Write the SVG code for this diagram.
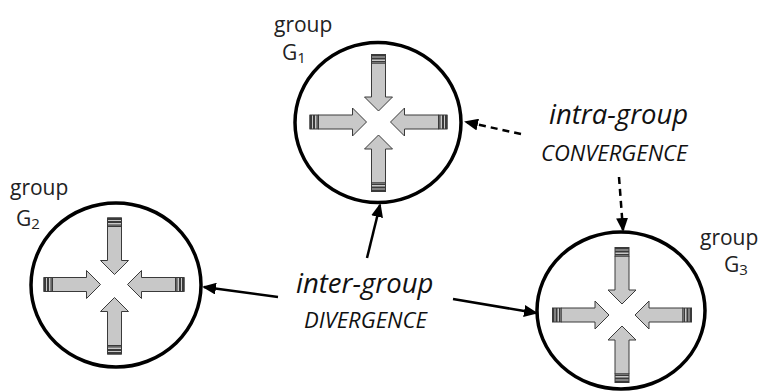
<svg xmlns="http://www.w3.org/2000/svg" xmlns:xlink="http://www.w3.org/1999/xlink" width="763" height="392" viewBox="0 0 763 392">
<style>
.ring{fill:#fff;stroke:#000;stroke-width:3.5}
.lbl{font-family:"Open Sans","Noto Sans","DejaVu Sans",sans-serif;font-size:21px;fill:#222}
.sub{font-size:15px}
.big{font-family:"Open Sans","Noto Sans","DejaVu Sans",sans-serif;font-style:italic;font-size:27.5px;fill:#111}
.caps{font-family:"Open Sans","Noto Sans","DejaVu Sans",sans-serif;font-style:italic;font-size:22px;fill:#111}
.conn{fill:none;stroke:#000;stroke-width:2.5}
.dash{stroke-dasharray:7,5}
.body{fill:#c8c8c8;stroke:#3a3a3a;stroke-width:1}
.band{fill:#3a3a3a}
</style>
<defs>
<marker id="ah" markerUnits="userSpaceOnUse" markerWidth="14" markerHeight="12" refX="12" refY="6" orient="auto">
<path d="M0,0 L14,6 L0,12 Z" fill="#000"/>
</marker>
<g id="ia">
<path class="body" d="M9,-7 H43 V-14 L57,0 L43,14 V7 H9 Z"/>
<rect class="body" x="0.5" y="-7" width="8.5" height="14"/>
<rect class="band" x="0" y="-7" width="2.5" height="14"/>
<rect class="band" x="3.5" y="-7" width="2" height="14"/>
<rect class="band" x="7" y="-7" width="1.2" height="14"/>
</g>
</defs>

<g id="G1">
<ellipse class="ring" cx="378" cy="122.5" rx="83" ry="80"/>
<use xlink:href="#ia" href="#ia" transform="translate(378.5,122) translate(-69,0)"/>
<use xlink:href="#ia" href="#ia" transform="translate(378.5,122) rotate(180) translate(-69,0)"/>
<use xlink:href="#ia" href="#ia" transform="translate(378.5,122) rotate(90) translate(-68,0)"/>
<use xlink:href="#ia" href="#ia" transform="translate(378.5,122) rotate(-90) translate(-70,0)"/>
<text class="lbl" x="274" y="32">group</text>
<text class="lbl" x="282" y="60">G<tspan class="sub" dy="3">1</tspan></text>
</g>

<g id="G2">
<ellipse class="ring" cx="116" cy="285" rx="85" ry="82"/>
<use xlink:href="#ia" href="#ia" transform="translate(114.5,284.5) translate(-71,0)"/>
<use xlink:href="#ia" href="#ia" transform="translate(114.5,284.5) rotate(180) translate(-70,0)"/>
<use xlink:href="#ia" href="#ia" transform="translate(114.5,284.5) rotate(90) translate(-67,0)"/>
<use xlink:href="#ia" href="#ia" transform="translate(114.5,284.5) rotate(-90) translate(-70,0)"/>
<text class="lbl" x="10" y="195">group</text>
<text class="lbl" x="16" y="226">G<tspan class="sub" dy="3">2</tspan></text>
</g>

<g id="G3">
<ellipse class="ring" cx="621" cy="310.5" rx="84" ry="78.5"/>
<use xlink:href="#ia" href="#ia" transform="translate(622,315) translate(-70,0)"/>
<use xlink:href="#ia" href="#ia" transform="translate(622,315) rotate(180) translate(-70,0)"/>
<use xlink:href="#ia" href="#ia" transform="translate(622,315) rotate(90) translate(-68,0)"/>
<use xlink:href="#ia" href="#ia" transform="translate(622,315) rotate(-90) translate(-68,0)"/>
<text class="lbl" x="700" y="245">group</text>
<text class="lbl" x="724" y="272">G<tspan class="sub" dy="3">3</tspan></text>
</g>

<g id="labels">
<text class="big" x="549" y="124">intra-group</text>
<text class="caps" x="541" y="161">CONVERGENCE</text>
<text class="big" x="296" y="293">inter-group</text>
<text class="caps" x="304" y="328">DIVERGENCE</text>
</g>

<g id="connectors">
<line class="conn" x1="367" y1="258" x2="380" y2="205" marker-end="url(#ah)"/>
<line class="conn" x1="278" y1="297" x2="204" y2="287" marker-end="url(#ah)"/>
<line class="conn" x1="453" y1="299" x2="536" y2="313" marker-end="url(#ah)"/>
<line class="conn dash" x1="521" y1="134" x2="466" y2="122" marker-end="url(#ah)"/>
<line class="conn dash" x1="619" y1="177" x2="623" y2="230" marker-end="url(#ah)"/>
</g>
</svg>
